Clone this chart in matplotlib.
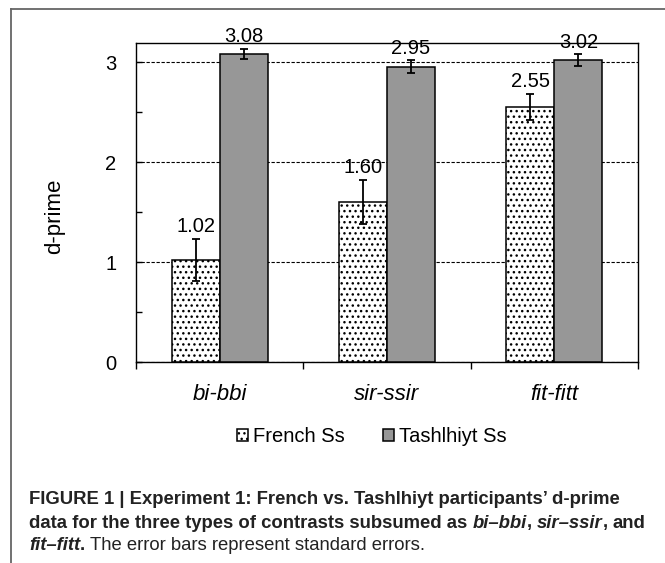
import matplotlib
matplotlib.use("Agg")
import matplotlib.pyplot as plt
from matplotlib.lines import Line2D
import numpy as np

plt.rcParams['font.family'] = ['Liberation Sans', 'DejaVu Sans']
plt.rcParams['hatch.color'] = '#6a6a6a'

categories = ['bi-bbi', 'sir-ssir', 'fit-fitt']
french = [1.02, 1.60, 2.55]
french_se = [0.21, 0.22, 0.13]
tashlhiyt = [3.08, 2.95, 3.02]
tashlhiyt_se = [0.05, 0.065, 0.055]
series_names = ['French Ss', 'Tashlhiyt Ss']
y_ticks = [0, 1, 2, 3]

W, H = 665, 563
fig = plt.figure(figsize=(W / 100, H / 100), dpi=100)

# axes box in pixels: left 136, right 638, top 43, bottom 362
ax = fig.add_axes([136 / W, 1 - 362 / H, 502 / W, 319 / H])

x = np.arange(len(categories))
w = 0.287
b1 = ax.bar(x - w / 2, french, w, color='white', edgecolor='black',
            linewidth=1.1, hatch='...', zorder=3)
b2 = ax.bar(x + w / 2, tashlhiyt, w, color='#979797', edgecolor='black',
            linewidth=1.1, zorder=3)
ax.errorbar(x - w / 2, french, yerr=french_se, fmt='none', ecolor='black',
            elinewidth=1.3, capsize=3, capthick=1.3, zorder=4)
ax.errorbar(x + w / 2, tashlhiyt, yerr=tashlhiyt_se, fmt='none', ecolor='black',
            elinewidth=1.3, capsize=3, capthick=1.3, zorder=4)

for xs, vals, errs in [(x - w / 2, french, french_se), (x + w / 2, tashlhiyt, tashlhiyt_se)]:
    for xi, v, e in zip(xs, vals, errs):
        ax.annotate(f"{v:.2f}", xy=(xi, v + e), xytext=(0, 2),
                    textcoords='offset points', ha='center', va='bottom',
                    fontsize=14.5, zorder=5, annotation_clip=False)

ax.set_xlim(-0.5, len(categories) - 0.5)
ax.set_ylim(0, 3.19)
ax.set_yticks(y_ticks)
ax.set_yticks([0.5, 1.5, 2.5], minor=True)
ax.tick_params(axis='y', which='both', direction='in', length=4, width=1,
               labelsize=14.5, pad=14)
ax.set_xticks(x)
ax.set_xticklabels(categories, fontstyle='italic', fontsize=16)
ax.set_xticks(np.arange(len(categories) + 1) - 0.5, minor=True)
ax.tick_params(axis='x', which='major', length=0, pad=16)
ax.tick_params(axis='x', which='minor', direction='out', length=5, width=1)

ax.yaxis.grid(True, color='black', linestyle=(0, (3, 1.5)), linewidth=0.8)
ax.set_axisbelow(True)
for s in ax.spines.values():
    s.set_linewidth(1.0)

fig.text(55 / W, 1 - 216 / H, 'd-prime', rotation=90, ha='center', va='center',
         fontsize=16)

fig.legend([b1, b2], series_names, loc='center', bbox_to_anchor=(372 / W, 1 - 437 / H),
           ncol=2, frameon=False, fontsize=14.5, handlelength=0.55, handleheight=0.55,
           handletextpad=0.25, columnspacing=1.9)

# outer frame (left and top edges only are visible)
fig.add_artist(Line2D([11 / W, 11 / W], [0, 1 - 9 / H], color='#666666', lw=1.3))
fig.add_artist(Line2D([11 / W, 1], [1 - 9 / H, 1 - 9 / H], color='#666666', lw=1.3))

# caption with mixed styles
renderer = fig.canvas.get_renderer()


def text_width(s, size, weight, style):
    t = fig.text(0, 0, s, fontsize=size, fontweight=weight, fontstyle=style)
    wd = t.get_window_extent(renderer).width
    t.remove()
    return wd


line1 = "FIGURE 1 | Experiment 1: French vs. Tashlhiyt participants\u2019 d-prime"
cap_size = 10 * 596 / text_width(line1, 10, 'bold', 'normal')

lines = [
    [(line1, 'bold', 'normal')],
    [("data for the three types of contrasts subsumed as", 'bold', 'normal'),
     (" bi\u2013bbi", 'bold', 'italic'), (",", 'bold', 'normal'),
     (" sir\u2013ssir", 'bold', 'italic'), (",", 'bold', 'normal'),
     (" and", 'bold', 'normal')],
    [("fit\u2013fitt", 'bold', 'italic'), (".", 'bold', 'normal'),
     (" The error bars represent standard errors.", 'normal', 'normal')],
]
line_y = [499, 523, 545]

for segs, yy in zip(lines, line_y):
    xp = 29
    for s, wt, st in segs:
        if s.startswith(' '):
            xp += text_width('a a', cap_size, wt, st) - text_width('aa', cap_size, wt, st)
            s = s[1:]
        fig.text(xp / W, 1 - yy / H, s, fontsize=cap_size, fontweight=wt,
                 fontstyle=st, va='center', ha='left', color='#222222')
        xp += text_width(s, cap_size, wt, st)

fig.savefig('out.png', dpi=100)
